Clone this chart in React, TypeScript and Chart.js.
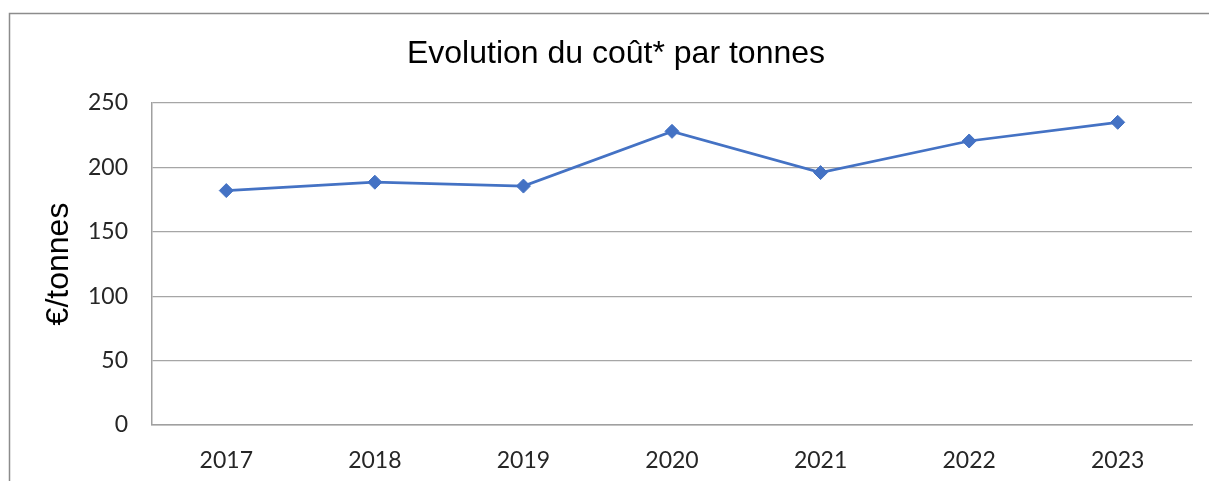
import React, { useEffect, useRef } from "react";
import { Chart, registerables } from "chart.js";

Chart.register(...registerables);

const years: string[] = ["2017", "2018", "2019", "2020", "2021", "2022", "2023"];
const costPerTonne: number[] = [182, 188.5, 185.5, 228, 196, 220.5, 235];
const chartTitle = "Evolution du coût* par tonnes";
const yAxisTitle = "€/tonnes";

const framePlugin = {
  id: "frameAndTitle",
  beforeDraw(chart: any) {
    const ctx = chart.ctx;
    ctx.save();
    ctx.fillStyle = "#ffffff";
    ctx.fillRect(0, 0, chart.width, chart.height);
    ctx.strokeStyle = "#8c8c8c";
    ctx.lineWidth = 1.5;
    ctx.beginPath();
    ctx.moveTo(9.5, chart.height);
    ctx.lineTo(9.5, 13.5);
    ctx.lineTo(chart.width, 13.5);
    ctx.stroke();
    ctx.restore();
  },
  afterDraw(chart: any) {
    const ctx = chart.ctx;
    ctx.save();
    ctx.fillStyle = "#000000";
    ctx.font = '32px "Liberation Sans", Arial, sans-serif';
    ctx.textAlign = "center";
    ctx.textBaseline = "alphabetic";
    ctx.fillText(chartTitle, 616, 63);
    ctx.restore();
  },
};

export default function App() {
  const canvasRef = useRef<HTMLCanvasElement | null>(null);

  useEffect(() => {
    if (!canvasRef.current) return;
    const chart = new Chart(canvasRef.current, {
      type: "line",
      data: {
        labels: years,
        datasets: [
          {
            data: costPerTonne,
            borderColor: "#4472C4",
            backgroundColor: "#4472C4",
            borderWidth: 2.75,
            pointStyle: "rectRot",
            pointRadius: 7,
            pointBorderWidth: 1,
            pointBackgroundColor: "#4472C4",
            pointBorderColor: "#4472C4",
            tension: 0,
          },
        ],
      },
      options: {
        responsive: false,
        animation: false,
        layout: { padding: { top: 103, left: 10, right: 17, bottom: 0 } },
        plugins: {
          legend: { display: false },
          title: { display: false },
          tooltip: { enabled: false },
        },
        scales: {
          x: {
            offset: true,
            grid: { display: false, drawTicks: false },
            border: { display: true, color: "#a0a0a0", width: 1.5 },
            ticks: {
              color: "#262626",
              font: { family: "Lato", size: 23 },
              padding: 22,
              maxRotation: 0,
            },
            afterFit: (scale: any) => {
              scale.height = 56;
            },
          },
          y: {
            min: 0,
            max: 250,
            grid: { color: "#a6a6a6", lineWidth: 1.25, drawTicks: false },
            border: { display: true, color: "#a0a0a0", width: 1.5 },
            ticks: {
              stepSize: 50,
              color: "#262626",
              font: { family: "Lato", size: 23 },
              padding: 24,
            },
            title: {
              display: true,
              text: yAxisTitle,
              color: "#000000",
              font: { family: "Liberation Sans", size: 32 },
              padding: { top: 30, bottom: 0 },
            },
            afterFit: (scale: any) => {
              scale.width = 142;
            },
          },
        },
      },
      plugins: [framePlugin],
    });
    return () => chart.destroy();
  }, []);

  return (
    <div style={{ position: "fixed", left: 0, top: 0, width: 1209, height: 481, background: "#fff" }}>
      <canvas ref={canvasRef} width={1209} height={481} style={{ display: "block" }} />
    </div>
  );
}
